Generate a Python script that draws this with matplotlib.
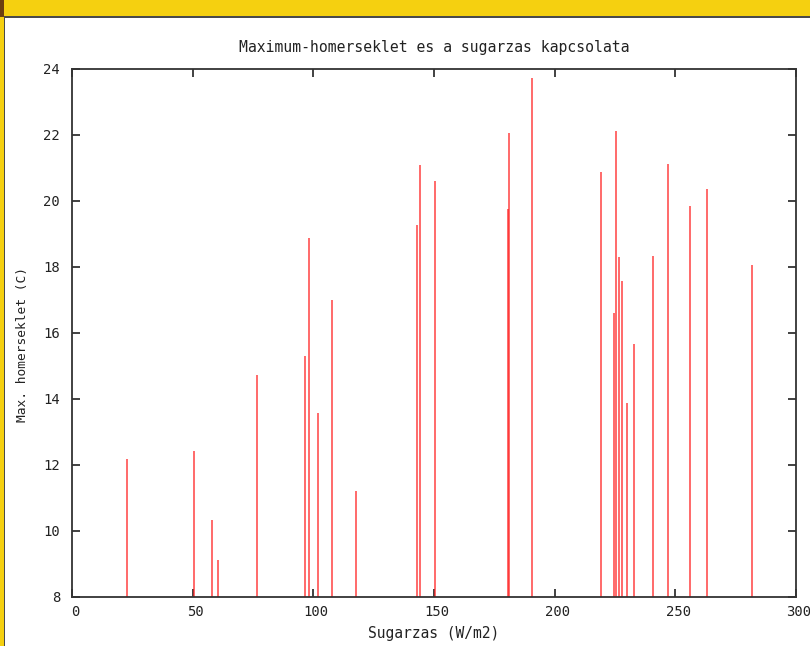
import matplotlib
matplotlib.use("Agg")
import matplotlib.pyplot as plt
from matplotlib.patches import Rectangle
from matplotlib.transforms import ScaledTranslation

# Data
radiation = [22.6, 50.6, 58.0, 60.6, 76.5, 96.6, 98.2, 101.8, 107.6, 117.7,
             143.0, 144.3, 150.5, 180.7, 181.2, 190.7, 219.3, 224.6, 225.6,
             226.7, 227.8, 229.9, 232.9, 240.7, 246.9, 255.9, 263.3, 281.9]
max_temp = [12.18, 12.42, 10.33, 9.13, 14.73, 15.29, 18.88, 13.58, 16.99, 11.22,
            19.28, 21.08, 20.62, 19.77, 22.06, 23.72, 20.87, 16.60, 22.13,
            18.30, 17.59, 13.89, 15.66, 18.34, 21.13, 19.85, 20.37, 18.07]
x_ticks = [0, 50, 100, 150, 200, 250, 300]
y_ticks = [8, 10, 12, 14, 16, 18, 20, 22, 24]

title = "Maximum-homerseklet es a sugarzas kapcsolata"
xlabel = "Sugarzas (W/m2)"
ylabel = "Max. homerseklet (C)"

W, H = 810, 646
fig = plt.figure(figsize=(W / 100, H / 100), dpi=100)
fig.patch.set_facecolor("white")

# window-frame decorations (yellow bar on top, strip on left)
def px_rect(x0, y0, w, h, color):
    fig.patches.append(Rectangle((x0 / W, 1 - (y0 + h) / H), w / W, h / H,
                                 transform=fig.transFigure, facecolor=color,
                                 edgecolor="none", zorder=0))

px_rect(0, 0, W, 17, "#f5d010")
px_rect(0, 16.5, W, 1.5, "#4a4a4a")
px_rect(0, 0, 4, H, "#f5d010")
px_rect(4, 17, 1.3, H - 17, "#4a4a4a")
px_rect(0, 0, 4, 17, "#6b3f10")

left, right, top, bottom = 72, 796, 69, 597
ax = fig.add_axes([left / W, 1 - bottom / H, (right - left) / W, (bottom - top) / H])
ax.set_facecolor("white")

ax.vlines(radiation, 8, max_temp, colors="#ff2020", linewidth=1.1, alpha=0.85)

ax.set_xlim(0, 300)
ax.set_ylim(8, 24)
ax.set_xticks(x_ticks)
ax.set_yticks(y_ticks)
ax.set_xticklabels([str(t) for t in x_ticks])
ax.set_yticklabels([str(t) for t in y_ticks])

mono = "DejaVu Sans Mono"
fs = 10
for s in ax.spines.values():
    s.set_color("#333333")
    s.set_linewidth(1.3)
ax.tick_params(direction="in", length=6, width=1.3, color="#333333",
               top=True, right=True, labelsize=fs)
ax.tick_params(axis="x", pad=6)
ax.tick_params(axis="y", pad=8.5)
shift = ScaledTranslation(3 / 100, 0, fig.dpi_scale_trans)
for lbl in ax.get_xticklabels():
    lbl.set_transform(lbl.get_transform() + shift)
for lbl in ax.get_xticklabels() + ax.get_yticklabels():
    lbl.set_family(mono)
    lbl.set_color("#222222")

ax.set_title(title, family=mono, fontsize=10.65, color="#222222", pad=12)
ax.set_xlabel(xlabel, family=mono, fontsize=10.5, color="#222222", labelpad=4.5)
ax.set_ylabel(ylabel, family=mono, fontsize=9.3, color="#222222", labelpad=10.5)
ax.yaxis.label.set_y(0.479)

fig.savefig("out.png", dpi=100)
